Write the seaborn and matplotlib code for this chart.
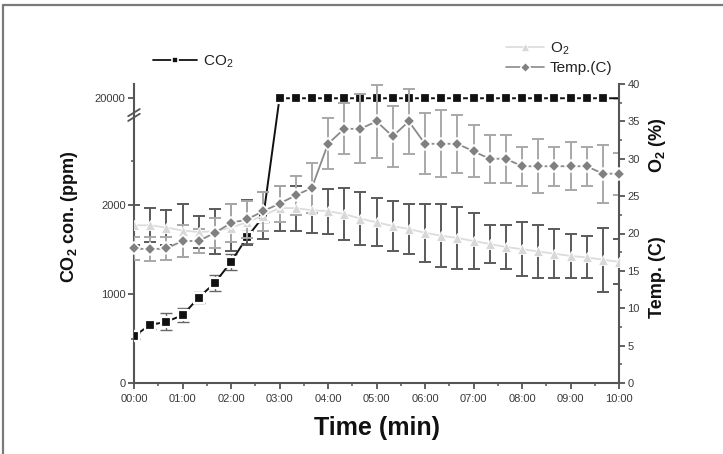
import numpy as np
import pandas as pd
import matplotlib
matplotlib.use("Agg")
import matplotlib.pyplot as plt
import seaborn as sns
from matplotlib.ticker import FixedLocator, MultipleLocator, FuncFormatter
from matplotlib.lines import Line2D

# ---------------- data ----------------
times = ["00:00", "00:20", "00:40", "01:00", "01:20", "01:40", "02:00", "02:20",
         "02:40", "03:00", "03:20", "03:40", "04:00", "04:20", "04:40", "05:00",
         "05:20", "05:40", "06:00", "06:20", "06:40", "07:00", "07:20", "07:40",
         "08:00", "08:20", "08:40", "09:00", "09:20", "09:40", "10:00"]

co2 = [530, 650, 690, 760, 960, 1125, 1360, 1640, 1870, 20000, 20000, 20000,
       20000, 20000, 20000, 20000, 20000, 20000, 20000, 20000, 20000, 20000,
       20000, 20000, 20000, 20000, 20000, 20000, 20000, 20000, 20000]
co2_err = [30, 40, 100, 80, 65, 90, 90, 70, 60, 0, 0, 0, 0, 0, 0, 0, 0, 0, 0,
           0, 0, 0, 0, 0, 0, 0, 0, 0, 0, 0, 0]

o2 = [21.1, 21.1, 20.8, 20.4, 20.2, 20.3, 20.8, 21.5, 22.4, 23.4, 23.4, 23.1,
      23.0, 22.6, 22.0, 21.5, 21.0, 20.6, 20.1, 19.7, 19.4, 19.0, 18.6, 18.2,
      17.9, 17.6, 17.3, 17.0, 16.8, 16.5, 16.2]
o2_err = [2.7, 2.3, 2.4, 3.5, 2.2, 3.0, 3.2, 3.0, 3.2, 3.0, 3.0, 3.0, 3.0, 3.5,
          3.5, 3.2, 3.4, 3.4, 3.9, 4.2, 4.1, 3.8, 2.6, 3.0, 3.6, 3.6, 3.3, 2.9,
          2.8, 4.3, 3.0]

temp = [18.0, 17.9, 18.0, 19.0, 19.0, 20.1, 21.4, 21.9, 23.0, 24.0, 25.1, 26.1,
        32.0, 34.0, 34.0, 35.0, 33.0, 35.0, 32.0, 32.0, 32.0, 31.0, 30.0, 30.0,
        29.0, 29.0, 29.0, 29.0, 29.0, 28.0, 28.0]
temp_err = [1.5, 1.6, 1.5, 2.2, 1.6, 2.0, 2.6, 2.5, 2.6, 2.4, 2.6, 3.3, 3.4, 3.4,
            4.6, 4.9, 4.1, 4.3, 4.1, 4.5, 3.9, 3.5, 3.2, 3.2, 2.6, 3.6, 2.6, 3.2,
            2.6, 3.9, 2.8]

x_ticklabels = ["00:00", "01:00", "02:00", "03:00", "04:00", "05:00",
                "06:00", "07:00", "08:00", "09:00", "10:00"]
left_ticks = [0, 1000, 2000, 20000]
right_ticks = [0, 5, 10, 15, 20, 25, 30, 35, 40]

minutes = [int(t.split(":")[0]) + int(t.split(":")[1]) / 60 for t in times]
df = pd.DataFrame({"t": minutes, "co2": co2, "co2_err": co2_err, "o2": o2,
                   "o2_err": o2_err, "temp": temp, "temp_err": temp_err})

# ---------------- style ----------------
sns.set_theme(style="ticks")
plt.rcParams["font.family"] = ["Liberation Sans", "DejaVu Sans"]
plt.rcParams["mathtext.fontset"] = "custom"
plt.rcParams["mathtext.rm"] = "Liberation Sans"
plt.rcParams["mathtext.bf"] = "Liberation Sans:bold"
plt.rcParams["mathtext.it"] = "Liberation Sans:italic"

SPINE = "#555555"
fig = plt.figure(figsize=(7.23, 4.54), dpi=100)
ax = fig.add_axes([134 / 723, 1 - 383 / 454, 485 / 723, 299 / 454])
ax2 = ax.twinx()

# broken-axis style scale for CO2
BRK = 3000.0
S = 200.0 / 17000.0


def fwd(v):
    v = np.asarray(v, dtype=float)
    return np.where(v <= BRK, v, BRK + (v - BRK) * S)


def inv(u):
    u = np.asarray(u, dtype=float)
    return np.where(u <= BRK, u, BRK + (u - BRK) / S)


ax.set_yscale("function", functions=(fwd, inv))
ax.set_ylim(0, float(inv(3360)))
ax.set_xlim(0, 10)
ax2.set_ylim(0, 40)

# ---------------- CO2 (left) ----------------
ax.errorbar(df["t"], df["co2"], yerr=df["co2_err"], fmt="none",
            ecolor="#666666", elinewidth=1.0, capsize=4, capthick=1.0, zorder=2)
sns.lineplot(data=df, x="t", y="co2", ax=ax, color="#111111", lw=1.4,
             marker="s", markersize=6.5, markeredgecolor="white",
             markeredgewidth=1.6, markerfacecolor="#111111",
             markevery=list(range(30)), label="CO$_2$", legend=False, zorder=3)

# ---------------- O2 / Temp (right) ----------------
ax2.errorbar(df["t"], df["o2"], yerr=df["o2_err"], fmt="none",
             ecolor="#5a5a5a", elinewidth=1.4, capsize=4.5, capthick=1.4, zorder=2)
ax2.errorbar(df["t"], df["temp"], yerr=df["temp_err"], fmt="none",
             ecolor="#a8a8a8", elinewidth=1.4, capsize=4.5, capthick=1.4, zorder=2)
sns.lineplot(data=df, x="t", y="o2", ax=ax2, color="#dcdcdc", lw=1.3,
             marker="^", markersize=7, markeredgecolor="white",
             markeredgewidth=0.6, markerfacecolor="#d8d8d8",
             label="O$_2$", legend=False, zorder=3)
sns.lineplot(data=df, x="t", y="temp", ax=ax2, color="#8a8a8a", lw=1.3,
             marker="D", markersize=6.5, markeredgecolor="white",
             markeredgewidth=1.2, markerfacecolor="#808080",
             label="Temp.(C)", legend=False, zorder=4, clip_on=False)

# ---------------- axes styling ----------------
for a in (ax, ax2):
    a.grid(False)
    a.spines["top"].set_visible(False)
    for s in ("left", "right", "bottom"):
        a.spines[s].set_color(SPINE)
        a.spines[s].set_linewidth(1.5)
ax.spines["right"].set_visible(False)
ax2.spines["left"].set_visible(False)
ax2.spines["bottom"].set_visible(False)

ax.set_xticks(range(0, 11))
ax.set_xticklabels(x_ticklabels)
ax.xaxis.set_minor_locator(MultipleLocator(0.5))
ax.yaxis.set_major_locator(FixedLocator(left_ticks))
ax.yaxis.set_major_formatter(FuncFormatter(lambda v, p: f"{int(round(v))}"))
ax.yaxis.set_minor_locator(FixedLocator([500, 1500, 2500]))
ax2.yaxis.set_major_locator(FixedLocator(right_ticks))
ax2.yaxis.set_minor_locator(MultipleLocator(2.5))

for a in (ax, ax2):
    a.tick_params(which="major", direction="out", length=4, width=1.3,
                  color=SPINE, labelsize=8, labelcolor="#3a3a3a", pad=2)
    a.tick_params(which="minor", direction="out", length=2.5, width=1.1,
                  color=SPINE)
ax.tick_params(axis="x", pad=4)
ax.set_xlabel("")
ax.set_ylabel("")
ax2.set_ylabel("")

# axis break marks on the left spine
yb = (383 - 115) / 299
for dy in (-0.008, 0.008):
    ax.plot([-0.012, 0.012], [yb + dy - 0.012, yb + dy + 0.012],
            transform=ax.transAxes, color=SPINE, lw=1.3, clip_on=False, zorder=10)

# ---------------- labels ----------------
ax.text(0.5, (383 - 428) / 299, "Time (min)", transform=ax.transAxes,
        ha="center", va="center", fontsize=18, fontweight="bold", color="#111111")
ax.text((70 - 134) / 485, (383 - 217) / 299, "CO$_\\mathbf{2}$ con. (ppm)",
        transform=ax.transAxes, rotation=90, ha="center", va="center",
        fontsize=13, fontweight="bold", color="#111111")
ax2.text((658 - 134) / 485, (383 - 145) / 299, "O$_\\mathbf{2}$ (%)",
         transform=ax2.transAxes, rotation=90, ha="center", va="center",
         fontsize=13, fontweight="bold", color="#111111")
ax2.text((658 - 134) / 485, (383 - 277) / 299, "Temp. (C)",
         transform=ax2.transAxes, rotation=90, ha="center", va="center",
         fontsize=13, fontweight="bold", color="#111111")

# ---------------- legends ----------------
h1 = [Line2D([], [], color="#111111", lw=1.3, marker="s", markersize=5,
             markerfacecolor="#111111", markeredgecolor="white", markeredgewidth=1.2)]
fig.legend(h1, ["CO$_2$"], loc="center left",
           bbox_to_anchor=(153 / 723, 1 - 62 / 454), frameon=False, fontsize=11,
           handlelength=2.9, handletextpad=0.35, borderpad=0, borderaxespad=0,
           labelcolor="#222222")
h2 = [Line2D([], [], color="#dcdcdc", lw=1.2, marker="^", markersize=5.5,
             markerfacecolor="#d8d8d8", markeredgecolor="white", markeredgewidth=0.5),
      Line2D([], [], color="#8a8a8a", lw=1.2, marker="D", markersize=5,
             markerfacecolor="#808080", markeredgecolor="white", markeredgewidth=1.0)]
fig.legend(h2, ["O$_2$", "Temp.(C)"], loc="center left",
           bbox_to_anchor=(506 / 723, 1 - 58 / 454), frameon=False, fontsize=11,
           handlelength=2.5, handletextpad=0.35, labelspacing=0.3, borderpad=0,
           borderaxespad=0, labelcolor="#222222")

# outer frame (top and left edges of the original figure box)
fig.add_artist(Line2D([3 / 723, 1.0], [1 - 5 / 454, 1 - 5 / 454],
                      transform=fig.transFigure, color="#7a7a7a", lw=1.6))
fig.add_artist(Line2D([3 / 723, 3 / 723], [1 - 5 / 454, 0.0],
                      transform=fig.transFigure, color="#7a7a7a", lw=1.6))

fig.savefig("out.png", dpi=100)
